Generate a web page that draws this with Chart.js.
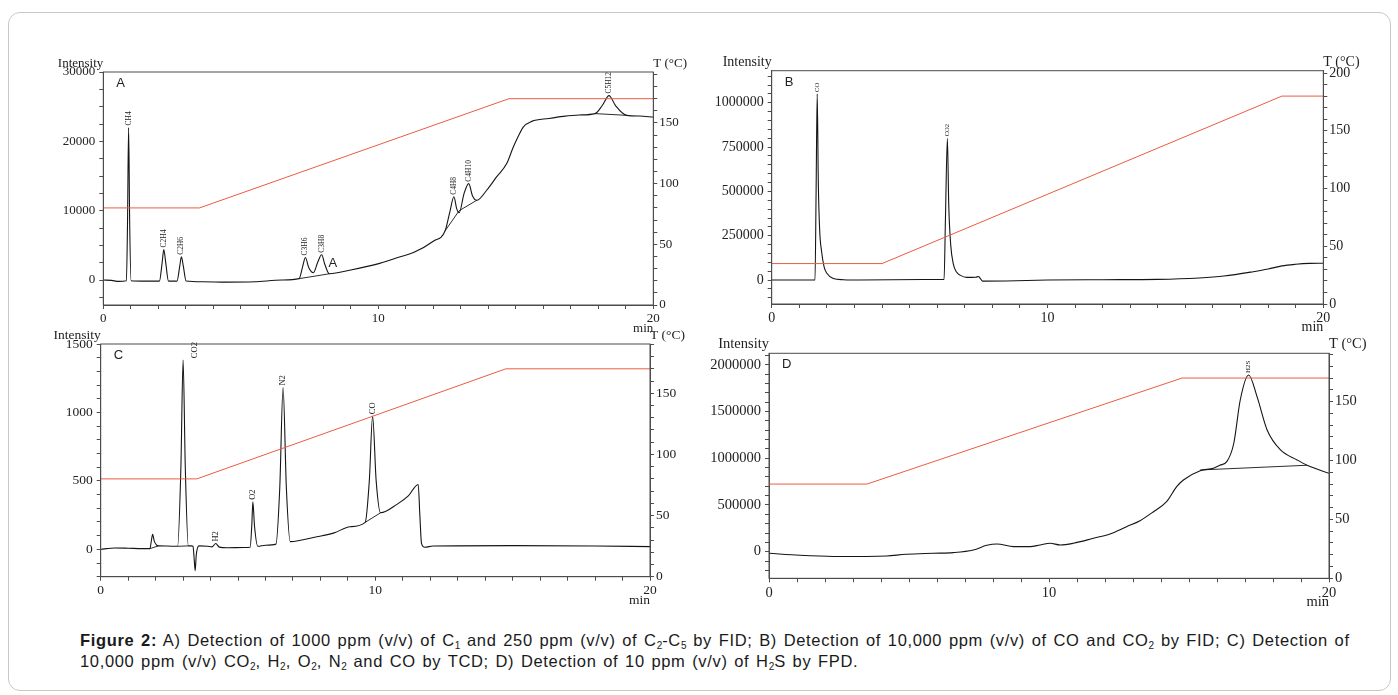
<!DOCTYPE html>
<html>
<head>
<meta charset="utf-8">
<script src="https://cdn.jsdelivr.net/npm/chart.js@4.4.1/dist/chart.umd.min.js"></script>
<style>
  body { margin: 0; background: #fff; width: 1398px; height: 695px; overflow: hidden; position: relative; }
  .frame { position: absolute; left: 8px; top: 12px; width: 1381px; height: 677px; border: 1px solid #c8c8c8; border-radius: 12px; }
  canvas { position: absolute; }
  .caption { position: absolute; left: 80px; top: 630px; font-family: 'Liberation Sans', Arial, sans-serif; font-size: 16.5px; letter-spacing: 0.65px; word-spacing: 1.5px; line-height: 21px; color: #1a1a1a; white-space: nowrap; }
  .caption sub { font-size: 10px; line-height: 0; vertical-align: -3px; letter-spacing: 0; }
</style>
</head>
<body>
<div class="frame"></div>
<canvas id="chartA" width="680" height="300" style="left:30px;top:40px"></canvas>
<canvas id="chartB" width="690" height="300" style="left:700px;top:40px"></canvas>
<canvas id="chartC" width="680" height="290" style="left:30px;top:320px"></canvas>
<canvas id="chartD" width="690" height="295" style="left:700px;top:320px"></canvas>
<div class="caption"><b>Figure 2:</b> A) Detection of 1000 ppm (v/v) of C<sub>1</sub> and 250 ppm (v/v) of C<sub>2</sub>-C<sub>5</sub> by FID; B) Detection of 10,000 ppm (v/v) of CO and CO<sub>2</sub> by FID; C) Detection of<br>10,000 ppm (v/v) CO<sub>2</sub>, H<sub>2</sub>, O<sub>2</sub>, N<sub>2</sub> and CO by TCD; D) Detection of 10 ppm (v/v) of H<sub>2</sub>S by FPD.</div>
<script>
var minuteLabels = [0, 10, 20];

// oven programs (A, C and D share one)
var ovenTime = [0, 3.5, 14.75, 20];
var ovenTemp = [80, 80, 170, 170];
var bOvenTime = [0, 4, 18.5, 20];
var bOvenTemp = [35, 35, 180, 180];

// A) FID, C1-C5
var aTime = [0, 0.3, 0.55, 0.84, 0.88, 0.92, 0.96, 1.01, 1.4,
  2.04, 2.14, 2.2, 2.27, 2.37, 2.68, 2.78, 2.84, 2.91, 3.01,
  3.6, 4.5, 5.5, 6.5, 7.12, 7.24, 7.35, 7.47, 7.64, 7.8, 7.94, 8.06, 8.22,
  9.0, 10.05, 10.8, 11.3, 12.0, 12.43, 12.6, 12.75, 12.85, 12.94, 13.12, 13.29, 13.42, 13.58,
  13.94, 14.3, 14.67, 14.91, 15.1, 15.27, 15.58, 16.2, 16.73, 17.3, 17.88,
  18.15, 18.39, 18.62, 19.03, 19.5, 20];
var aSignal = [0, -50, -200, -100, 8000, 22000, 8000, -100, -150,
  -150, 2500, 4400, 2500, -150, -150, 2000, 3350, 2000, -150,
  -250, -300, -250, 0, 200, 1800, 3260, 1800, 1050, 2600, 3650, 2200, 900,
  1450, 2400, 3350, 4000, 5600, 7100, 9800, 12000, 10300, 9700, 12500, 13900, 12200, 11500,
  12950, 14870, 16800, 19180, 20800, 22060, 22880, 23300, 23600, 23800, 24000,
  25200, 26600, 25200, 23750, 23650, 23500];
var aBaseTime = [7.12, 8.22, 8.3, 12.43, 12.94, 13.58, 13.7, 17.88, 19.03];
var aBaseSignal = [200, 900, null, 7100, 10000, 11500, null, 24000, 23750];
var aPeakNames = ['CH4', 'C2H4', 'C2H6', 'C3H6', 'C3H8', 'C4H8', 'C4H10', 'C5H12'];
var aPeakTimes = [0.92, 2.2, 2.84, 7.35, 7.94, 12.75, 13.29, 18.39];
var aPeakHeights = [22000, 4400, 3350, 3260, 3650, 12000, 13900, 26600];
var aIntensityLabels = [0, 10000, 20000, 30000];

// B) FID, CO and CO2
var bTime = [0, 1.57, 1.61, 1.65, 1.69, 1.74, 1.81, 1.9, 2.0, 2.23, 2.6, 3.2, 5.5,
  6.25, 6.3, 6.37, 6.42, 6.49, 6.58, 6.7, 6.83, 7.07, 7.4, 7.5, 7.56, 7.65, 8.5,
  10, 12, 14, 15.5, 16.4, 17.46, 18.0, 18.5, 19.0, 19.5, 20];
var bSignal = [0, 0, 500000, 1050000, 550000, 280000, 160000, 75000, 38000, 9000, 2000, 0, 3000,
  4000, 350000, 800000, 420000, 200000, 94000, 45000, 28000, 15000, 16000, 20000, 10000, -6000, -5000,
  0, 2000, 4000, 12000, 22600, 47000, 62000, 80000, 89000, 94000, 95000];
var bPeakNames = ['CO', 'CO2'];
var bPeakTimes = [1.65, 6.37];
var bPeakHeights = [1050000, 800000];
var bIntensityLabels = [0, 250000, 500000, 750000, 1000000];

// C) TCD, permanent gases
var cTime = [0, 0.2, 0.5, 1.0, 1.5, 1.79, 1.85, 1.89, 1.95, 2.02, 2.1, 2.4,
  2.8, 2.92, 3.0, 3.08, 3.19, 3.3, 3.36, 3.4, 3.44, 3.48, 3.58, 3.9,
  4.05, 4.19, 4.32, 4.6, 5.2, 5.44, 5.5, 5.54, 5.6, 5.72, 6.0,
  6.38, 6.52, 6.64, 6.76, 6.9, 7.87, 8.5, 9.08, 9.63, 9.78, 9.9, 10.03, 10.19,
  10.8, 11.2, 11.56, 11.62, 11.68, 11.8, 12.1, 15, 18, 20];
var cSignal = [0, 5, 10, 8, 5, 5, 70, 110, 60, 35, 25, 24,
  22, 600, 1382, 600, 25, 25, 22, -60, -156, -40, 25, 22,
  18, 42, 16, 12, 13, 15, 170, 347, 170, 22, 30,
  38, 450, 1182, 450, 56, 92, 120, 165, 197, 500, 973, 500, 267,
  330, 390, 474, 250, 44, 15, 24, 27, 24, 20];
var cBaseTime = [1.79, 2.1, 2.2, 2.8, 3.19, 3.25, 9.63, 10.19];
var cBaseSignal = [5, 25, null, 22, 25, null, 197, 267];
var cPeakNames = ['CO2', 'H2', 'O2', 'N2', 'CO'];
var cPeakTimes = [3.0, 4.19, 5.54, 6.64, 9.9];
var cPeakHeights = [1382, 42, 347, 1182, 973];
var cIntensityLabels = [0, 500, 1000, 1500];

// D) FPD, H2S
var dTime = [0, 1.1, 2.3, 3.5, 4.2, 4.9, 5.87, 6.58, 7.3, 7.78, 8.14, 8.74, 9.33,
  9.68, 10.04, 10.4, 10.87, 11.58, 12.18, 12.77, 13.25, 13.73, 14.2, 14.56, 14.8, 15.4, 15.87,
  16.1, 16.35, 16.6, 16.83, 17.13, 17.43, 17.79, 18.27, 18.86, 19.2, 20];
var dSignal = [-17000, -39000, -51000, -51000, -46000, -28000, -17000, -10000, 18000, 68000, 82000, 54000, 54000,
  72000, 90000, 72000, 90000, 143000, 190000, 268000, 332000, 428000, 535000, 696000, 768000, 867000, 893000,
  925000, 964000, 1161000, 1624000, 1892000, 1660000, 1303000, 1089000, 982000, 928000, 839000];
var dBaseTime = [15.4, 19.2];
var dBaseSignal = [875000, 925000];
var dPeakNames = ['H2S'];
var dPeakTimes = [17.13];
var dPeakHeights = [1892000];
var dIntensityLabels = [0, 500000, 1000000, 1500000, 2000000];

var tempLabels = [0, 50, 100, 150];
var bTempLabels = [0, 50, 100, 150, 200];

var axisColor = '#4d4d4d';
var serif = 'Liberation Serif';

function points(xs, ys) {
  return xs.map(function (x, i) { return { x: x, y: ys[i] }; });
}

function stepTicks(min, max, step) {
  var out = [];
  for (var v = Math.ceil(min / step) * step; v <= max + 1e-9; v += step) out.push({ value: v });
  return out;
}

function textPlugin(p) {
  return {
    id: 'panelText',
    afterDraw: function (chart) {
      var ctx = chart.ctx, a = chart.chartArea, sx = chart.scales.x, sy = chart.scales.y;
      ctx.save();
      ctx.strokeStyle = axisColor;
      ctx.lineWidth = 1;
      ctx.strokeRect(a.left, a.top, a.right - a.left, a.bottom - a.top);
      ctx.fillStyle = '#222';
      ctx.font = p.font + 'px "' + serif + '"';
      ctx.textBaseline = 'alphabetic';
      ctx.textAlign = 'right';
      ctx.fillText('Intensity', a.left, a.top - 5);
      ctx.fillText('min', a.right, a.bottom + p.minY);
      ctx.textAlign = 'left';
      ctx.fillText('T (\u00b0C)', a.right, a.top - 5);
      ctx.font = '13px "Liberation Sans"';
      ctx.fillText(p.letter, a.left + 13, a.top + 15);
      if (p.note) {
        ctx.textAlign = 'center';
        ctx.textBaseline = 'middle';
        ctx.fillText(p.note.text, sx.getPixelForValue(p.note.time), sy.getPixelForValue(p.note.value));
      }
      // peak names, written upwards
      ctx.font = p.peakFont + 'px "' + serif + '"';
      ctx.textAlign = 'left';
      ctx.textBaseline = 'middle';
      p.peakNames.forEach(function (name, i) {
        var px = sx.getPixelForValue(p.peakTimes[i]) + (p.peakShift ? p.peakShift[i] : 0);
        var py = sy.getPixelForValue(p.peakHeights[i]) - 2;
        ctx.save();
        ctx.translate(px, py);
        ctx.rotate(-Math.PI / 2);
        ctx.fillText(name, 0, 0);
        ctx.restore();
      });
      ctx.restore();
    }
  };
}

function drawPanel(p) {
  var datasets = [
    { data: points(p.ovenTime, p.ovenTemp), borderColor: '#ec5b41', borderWidth: 1, tension: 0, yAxisID: 't' },
    { data: points(p.time, p.signal), borderColor: '#151515', borderWidth: 1.1, cubicInterpolationMode: 'monotone', yAxisID: 'y' }
  ];
  if (p.baseTime) {
    datasets.push({ data: points(p.baseTime, p.baseSignal), borderColor: '#151515', borderWidth: 0.9, tension: 0, spanGaps: false, yAxisID: 'y' });
  }
  var tickFont = { family: serif, size: p.font };
  new Chart(document.getElementById(p.id), {
    type: 'line',
    data: { datasets: datasets },
    options: {
      responsive: false,
      animation: false,
      layout: { padding: { top: p.top, left: 0, right: 0, bottom: 0 } },
      elements: { point: { radius: 0 } },
      plugins: { legend: { display: false }, tooltip: { enabled: false } },
      scales: {
        x: {
          type: 'linear', min: 0, max: 20,
          afterBuildTicks: function (s) { s.ticks = stepTicks(0, 20, 1); },
          afterFit: function (s) { s.height = p.xH; },
          ticks: { autoSkip: false, maxRotation: 0, padding: 2, color: '#222', font: tickFont,
            callback: function (v) { return minuteLabels.indexOf(v) >= 0 ? String(v) : ''; } },
          grid: { drawOnChartArea: false, tickLength: 4, color: axisColor },
          border: { color: axisColor }
        },
        y: {
          type: 'linear', position: 'left', min: p.yMin, max: p.yMax,
          afterBuildTicks: function (s) { s.ticks = stepTicks(p.yMin, p.yMax, p.yStep); },
          afterFit: function (s) { s.width = p.leftW; },
          ticks: { autoSkip: false, padding: 4, color: '#222', font: tickFont,
            callback: function (v) { return p.yLabels.indexOf(v) >= 0 ? String(v) : ''; } },
          grid: { drawOnChartArea: false, tickLength: 4, color: axisColor },
          border: { color: axisColor }
        },
        t: {
          type: 'linear', position: 'right', min: 0, max: p.tMax,
          afterBuildTicks: function (s) { s.ticks = stepTicks(0, p.tMax, 10); },
          afterFit: function (s) { s.width = p.rightW; },
          ticks: { autoSkip: false, padding: 2, color: '#222', font: tickFont,
            callback: function (v) { return p.tLabels.indexOf(v) >= 0 ? String(v) : ''; } },
          grid: { drawOnChartArea: false, tickLength: 4, color: axisColor },
          border: { color: axisColor }
        }
      }
    },
    plugins: [textPlugin(p)]
  });
}

drawPanel({ id: 'chartA', letter: 'A', time: aTime, signal: aSignal, baseTime: aBaseTime, baseSignal: aBaseSignal,
  ovenTime: ovenTime, ovenTemp: ovenTemp, peakNames: aPeakNames, peakTimes: aPeakTimes, peakHeights: aPeakHeights,
  yLabels: aIntensityLabels, tLabels: tempLabels, yMin: -3600, yMax: 30000, yStep: 2500, tMax: 192,
  leftW: 73.3, rightW: 56.7, top: 32, xH: 35, font: 13, peakFont: 7.5, minY: 27,
  note: { text: 'A', time: 8.35, value: 2450 } });

drawPanel({ id: 'chartB', letter: 'B', time: bTime, signal: bSignal,
  ovenTime: bOvenTime, ovenTemp: bOvenTemp, peakNames: bPeakNames, peakTimes: bPeakTimes, peakHeights: bPeakHeights,
  yLabels: bIntensityLabels, tLabels: bTempLabels, yMin: -135000, yMax: 1181000, yStep: 50000, tMax: 202,
  leftW: 71.7, rightW: 66.7, top: 30.7, xH: 36, font: 14, peakFont: 6.5, minY: 27 });

drawPanel({ id: 'chartC', letter: 'C', time: cTime, signal: cSignal, baseTime: cBaseTime, baseSignal: cBaseSignal,
  ovenTime: ovenTime, ovenTemp: ovenTemp, peakNames: cPeakNames, peakTimes: cPeakTimes, peakHeights: cPeakHeights,
  peakShift: [12, 0, 0, 0, 0],
  yLabels: cIntensityLabels, tLabels: tempLabels, yMin: -200, yMax: 1500, yStep: 100, tMax: 190.3,
  leftW: 70.7, rightW: 60, top: 24, xH: 33.3, font: 13.5, peakFont: 8.5, minY: 27 });

drawPanel({ id: 'chartD', letter: 'D', time: dTime, signal: dSignal, baseTime: dBaseTime, baseSignal: dBaseSignal,
  ovenTime: ovenTime, ovenTemp: ovenTemp, peakNames: dPeakNames, peakTimes: dPeakTimes, peakHeights: dPeakHeights,
  yLabels: dIntensityLabels, tLabels: tempLabels, yMin: -285000, yMax: 2124000, yStep: 100000, tMax: 191,
  leftW: 69, rightW: 61, top: 33.3, xH: 36.7, font: 14.5, peakFont: 7, minY: 28 });
</script>
</body>
</html>
